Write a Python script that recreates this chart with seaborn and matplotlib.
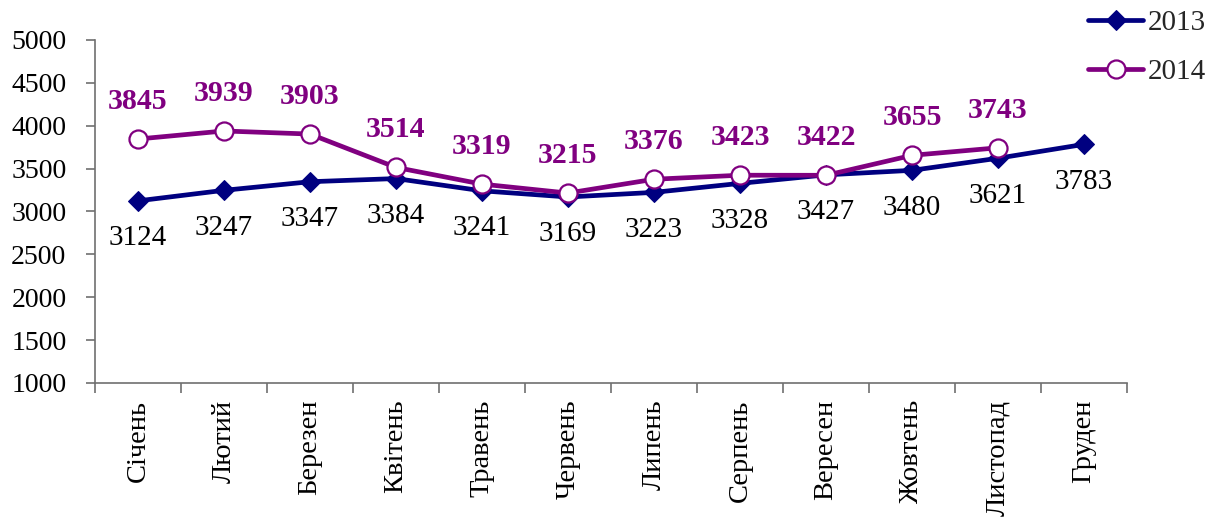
import matplotlib
matplotlib.use("Agg")
import matplotlib.pyplot as plt
import seaborn as sns
import pandas as pd
import numpy as np
from matplotlib.ticker import FixedLocator

# Monthly values
months = ["Січень", "Лютий", "Березен", "Квітень", "Травень", "Червень",
          "Липень", "Серпень", "Вересен", "Жовтень", "Листопад", "Груден"]
values_2013 = [3124, 3247, 3347, 3384, 3241, 3169, 3223, 3328, 3427, 3480, 3621, 3783]
values_2014 = [3845, 3939, 3903, 3514, 3319, 3215, 3376, 3423, 3422, 3655, 3743]
y_ticks = [1000, 1500, 2000, 2500, 3000, 3500, 4000, 4500, 5000]

sns.set_theme(style="white")
plt.rcParams["font.family"] = ["Liberation Serif", "DejaVu Serif"]

navy = "#000080"
purple = "#800080"

df13 = pd.DataFrame({"pos": np.arange(len(values_2013)), "value": values_2013})
df14 = pd.DataFrame({"pos": np.arange(len(values_2014)), "value": values_2014})

fig = plt.figure(figsize=(12.3, 5.22), dpi=100)
ax = fig.add_axes([0.0772, 0.2663, 0.9163 - 0.0772, 0.9234 - 0.2663])

sns.lineplot(data=df13, x="pos", y="value", ax=ax, color=navy, linewidth=3.4,
             marker="D", markersize=10, markerfacecolor=navy,
             markeredgecolor=navy, label="2013", zorder=3)
sns.lineplot(data=df14, x="pos", y="value", ax=ax, color=purple, linewidth=3.4,
             marker="o", markersize=13, markerfacecolor="white",
             markeredgecolor=purple, markeredgewidth=1.6, label="2014", zorder=4)

# Value labels
for i, v in enumerate(values_2013):
    ax.annotate(str(v), (i, v), xytext=(0, -27), textcoords="offset points",
                ha="center", va="center", fontsize=21, color="black")
for i, v in enumerate(values_2014):
    ax.annotate(str(v), (i, v), xytext=(0, 27), textcoords="offset points",
                ha="center", va="center", fontsize=21.5, color=purple,
                fontweight="bold")

ax.set_xlim(-0.5, len(months) - 0.5)
ax.set_ylim(1000, 5000)
ax.set_yticks(y_ticks)
ax.set_yticklabels([str(t) for t in y_ticks], fontsize=20)
ax.set_xticks(np.arange(len(months)))
ax.set_xticklabels(months, rotation=90, fontsize=20.5)
ax.xaxis.set_minor_locator(FixedLocator(np.arange(len(months) + 1) - 0.5))
ax.set_xlabel("")
ax.set_ylabel("")

spine_color = "#707070"
for side in ["top", "right"]:
    ax.spines[side].set_visible(False)
for side in ["left", "bottom"]:
    ax.spines[side].set_color(spine_color)
    ax.spines[side].set_linewidth(1.2)

ax.tick_params(axis="y", which="major", direction="out", length=6.5, width=1.2,
               color=spine_color, pad=14, left=True, labelcolor="black")
ax.tick_params(axis="x", which="major", length=0, pad=12, labelcolor="black")
ax.tick_params(axis="x", which="minor", direction="out", length=7, width=1.2,
               color=spine_color, bottom=True)
ax.grid(False)

ax.get_legend().remove()
handles, labels = ax.get_legend_handles_labels()
fig.legend(handles, labels, loc="upper left", bbox_to_anchor=(0.8846, 0.982),
           frameon=False, fontsize=21, handlelength=1.9, handletextpad=0.15,
           labelspacing=0.78, borderpad=0, borderaxespad=0)

fig.savefig("out.png", dpi=100)
